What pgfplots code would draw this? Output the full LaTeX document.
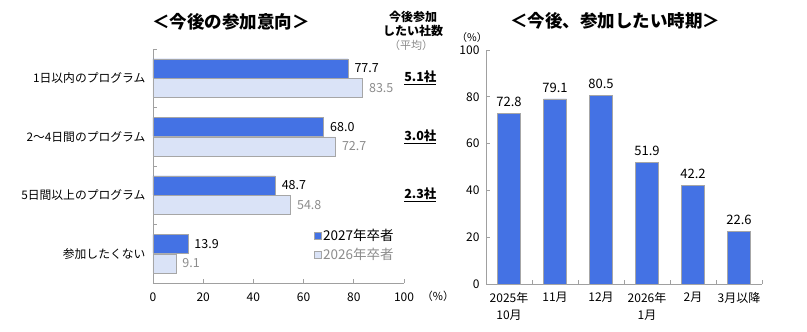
\documentclass[border=0pt]{standalone}
\usepackage{fontspec}
\setmainfont{Noto Sans CJK JP}
\usepackage{pgfplots}
\pgfplotsset{compat=1.18}
\definecolor{darkb}{HTML}{4472E4}
\definecolor{lightb}{HTML}{DAE3F7}
\definecolor{edge}{HTML}{A6A6A6}
\definecolor{axisg}{HTML}{A0A0A0}
\definecolor{graytxt}{HTML}{8C8C8C}
\pgfplotstableread{
y v27 v26
3 77.7 83.5
2 68.0 72.7
1 48.7 54.8
0 13.9 9.1
}\leftdata
\pgfplotstableread{
x v
0 72.8
1 79.1
2 80.5
3 51.9
4 42.2
5 22.6
}\rightdata
\begin{document}
\begin{tikzpicture}[x=1pt,y=1pt]
\path (0,0) rectangle (807,332);
\node[font=\bfseries\fontsize{17.5}{19}\selectfont] at (231,310) {＜今後の参加意向＞};
\node[font=\bfseries\fontsize{17.5}{19}\selectfont] at (615,311) {＜今後、参加したい時期＞};
\node[font=\bfseries\fontsize{12}{14}\selectfont, align=center] at (413,308) {今後参加\\したい社数};
\node[font=\fontsize{11}{12}\selectfont, text=graytxt] at (411,287) {（平均）};
\begin{axis}[at={(153pt,49pt)}, anchor=south west, scale only axis,
  width=251pt, height=234pt,
  xbar, bar width=19pt,
  xmin=0, xmax=100, ymin=-0.5, ymax=3.5,
  axis lines=left, axis line style={-, draw=axisg, line width=0.8pt},
  xtick={0,20,...,100}, tick align=inside, major tick length=4pt,
  tick style={draw=axisg, line width=0.6pt},
  ytick={-0.5,0.5,1.5,2.5,3.5}, yticklabels={},
  extra y ticks={0,1,2,3},
  extra y tick labels={参加したくない,5日間以上のプログラム,2〜4日間のプログラム,1日以内のプログラム},
  extra y tick style={major tick length=0pt, tick style={draw=none}},
  yticklabel style={font=\fontsize{11.8}{13}\selectfont, xshift=-4pt},
  xticklabel style={font=\fontsize{12}{13}\selectfont, yshift=-6pt},
  /pgf/number format/assume math mode=true,
  nodes near coords,
  nodes near coords style={font=\fontsize{12.5}{14}\selectfont, anchor=west, xshift=3pt,
    /pgf/number format/fixed, /pgf/number format/precision=1, /pgf/number format/fixed zerofill},
  clip=false,
  legend style={at={(0.64,0.24)}, anchor=north west, draw=none, fill=none,
    font=\fontsize{13.5}{15}\selectfont, row sep=2pt,
    legend cell align=left, inner sep=0pt},
  legend image code/.code={\draw[#1] (0pt,-3.5pt) rectangle (7pt,3.5pt);},
]
\addplot[fill=darkb, draw=edge, bar shift=9.75pt, nodes near coords style={text=black}] table[x=v27, y=y] {\leftdata};
\addlegendentry{2027年卒者}
\addplot[fill=lightb, draw=edge, bar shift=-9.75pt, nodes near coords style={text=graytxt}] table[x=v26, y=y] {\leftdata};
\addlegendentry{\textcolor{graytxt}{2026年卒者}}
\node[font=\bfseries\fontsize{12.5}{14}\selectfont, anchor=center] at (axis cs:106.5,3) {\underline{5.1社}};
\node[font=\bfseries\fontsize{12.5}{14}\selectfont, anchor=center] at (axis cs:106.5,2) {\underline{3.0社}};
\node[font=\bfseries\fontsize{12.5}{14}\selectfont, anchor=center] at (axis cs:106.5,1) {\underline{2.3社}};
\end{axis}
\node[font=\fontsize{11}{13}\selectfont] at (438,36) {（\%）};
\begin{axis}[at={(486pt,48pt)}, anchor=south west, scale only axis,
  width=276pt, height=234pt,
  ybar, bar width=23pt,
  xmin=-0.5, xmax=5.5, ymin=0, ymax=100,
  axis lines=left, axis line style={-, draw=axisg, line width=0.8pt},
  ytick={0,20,...,100}, tick align=inside, major tick length=4pt,
  tick style={draw=axisg, line width=0.6pt},
  xtick={0.5,1.5,...,5.5}, xticklabels={}, 
  extra x ticks={0,1,2,3,4,5},
  extra x tick labels={{2025年\\10月},11月,12月,{2026年\\1月},2月,3月以降},
  extra x tick style={major tick length=0pt, tick style={draw=none}},
  xticklabel style={font=\fontsize{12}{16.5}\selectfont, align=center, yshift=-5pt},
  yticklabel style={font=\fontsize{12}{13}\selectfont, xshift=-3pt},
  /pgf/number format/assume math mode=true,
  nodes near coords,
  nodes near coords style={font=\fontsize{13}{14}\selectfont, yshift=3pt,
    /pgf/number format/fixed, /pgf/number format/precision=1, /pgf/number format/fixed zerofill},
  clip=false,
]
\addplot[fill=darkb, draw=edge] table[x=x, y=v] {\rightdata};
\end{axis}
\node[font=\fontsize{10.5}{12}\selectfont] at (472,294) {（\%）};
\end{tikzpicture}
\end{document}
